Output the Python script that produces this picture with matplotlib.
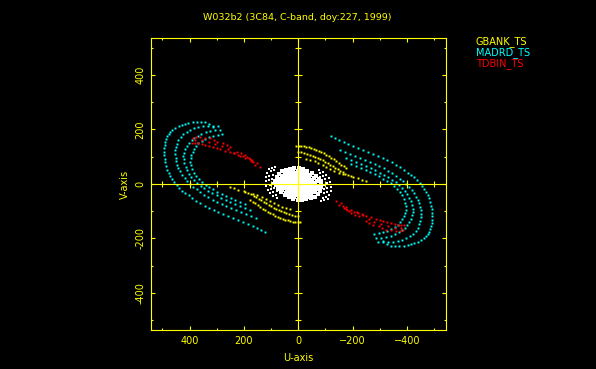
import matplotlib
matplotlib.use('Agg')
import matplotlib.pyplot as plt
import numpy as np

# Datos UV (u, v) en kilo-lambda, solo medio plano; el conjugado (-u, -v) se dibuja tambien
titulo = 'W032b2 (3C84, C-band, doy:227, 1999)'
estaciones = ['GBANK_TS', 'MADRD_TS', 'TDBIN_TS']

# MADRD_TS: cuatro arcos anidados
madrd_1 = [(313, 209), (328, 219), (342, 228), (357, 229), (372, 228), (388, 227), (405, 224),
           (416, 221), (427, 217), (440, 212), (453, 206), (463, 199), (471, 191), (477, 184),
           (482, 176), (486, 165), (489, 154), (491, 143), (493, 132), (494, 119), (493, 106),
           (491, 93), (489, 81), (486, 66), (482, 51), (477, 40), (471, 29), (464, 18), (456, 7),
           (447, -4), (438, -15), (427, -24), (416, -33), (403, -42), (390, -51), (376, -61),
           (361, -70), (345, -79), (328, -88), (311, -96), (294, -103), (276, -110), (258, -117),
           (240, -125), (221, -132), (203, -140), (184, -147), (168, -154), (151, -161),
           (136, -169), (121, -176)]
madrd_2 = [(294, 213), (312, 214), (331, 213), (350, 212), (368, 209), (383, 204), (397, 198),
           (410, 191), (423, 184), (433, 173), (442, 161), (446, 148), (449, 136), (452, 123),
           (453, 110), (451, 97), (449, 84), (446, 71), (442, 59), (435, 46), (427, 33), (418, 22),
           (408, 11), (397, 0), (386, -11), (374, -20), (361, -29), (346, -39), (331, -48),
           (315, -57), (298, -66), (282, -74), (265, -81), (247, -88), (228, -95), (210, -103),
           (191, -110), (173, -118), (155, -125)]
madrd_3 = [(287, 198), (306, 197), (324, 195), (341, 190), (357, 184), (370, 177), (383, 169),
           (392, 160), (401, 150), (409, 139), (416, 128), (420, 115), (423, 103), (422, 90),
           (420, 77), (414, 64), (408, 51), (401, 38), (394, 26), (383, 15), (372, 4), (359, -6),
           (346, -15), (331, -24), (316, -33), (300, -42), (283, -51), (267, -59), (250, -66),
           (232, -74), (213, -81), (195, -88), (177, -95)]
madrd_4 = [(280, 184), (297, 180), (313, 176), (328, 171), (342, 165), (355, 158), (368, 150),
           (376, 139), (383, 128), (389, 117), (394, 106), (396, 94), (397, 81), (394, 68),
           (390, 55), (383, 42), (375, 29), (364, 18), (353, 7), (341, -2), (328, -11), (313, -20),
           (298, -29), (282, -37), (265, -44), (249, -52), (232, -59), (214, -66), (195, -73)]

# TDBIN_TS: tres filas
tdbin_1 = [(386, 169), (375, 172), (361, 172), (342, 169), (324, 169), (309, 161), (298, 154),
           (276, 150), (261, 143), (250, 136), (224, 117), (210, 114), (195, 106), (180, 95),
           (169, 88), (151, 77), (140, 62)]
tdbin_2 = [(390, 150), (379, 151), (368, 150), (355, 146), (342, 143), (328, 140), (313, 136),
           (300, 132), (287, 128), (268, 122), (250, 117), (235, 112), (221, 106), (205, 103),
           (188, 99), (177, 90), (166, 81)]
tdbin_3 = [(380, 160), (355, 160), (330, 155), (305, 146), (280, 139), (260, 128), (238, 115),
           (215, 104), (195, 95), (175, 84), (158, 70)]

# GBANK_TS: tres filas cortas
gbank_1 = [(7, 139), (-2, 140), (-11, 139), (-20, 138), (-29, 136), (-38, 134), (-48, 132),
           (-57, 129), (-66, 125), (-75, 121), (-85, 117), (-94, 112), (-103, 106), (-112, 101),
           (-121, 95), (-130, 90), (-140, 84), (-149, 77), (-158, 70), (-168, 65), (-177, 59)]
gbank_2 = [(0, 117), (-11, 116), (-22, 114), (-33, 110), (-44, 106), (-53, 103), (-63, 99),
           (-72, 96), (-81, 92), (-90, 87), (-99, 81), (-108, 76), (-118, 70), (-127, 65),
           (-136, 59), (-145, 54), (-155, 48), (-164, 43), (-173, 37), (-184, 33), (-195, 29),
           (-236, 15), (-250, 11)]
gbank_3 = [(-30, 92), (-44, 88), (-60, 83), (-74, 77), (-90, 70), (-103, 62), (-118, 55),
           (-132, 48), (-150, 42), (-166, 37), (-200, 26), (-221, 22)]

# resto de bases cortas (blanco)
corta_1 = [(108, 56), (115, 42), (119, 26), (120, 10), (118, -6), (112, -21), (104, -34),
           (92, -44), (78, -50)]
corta_2 = [(96, 60), (102, 46), (106, 30), (107, 13), (105, -3), (100, -18), (92, -30),
           (81, -40)]
corta_3 = [(84, 64), (90, 50), (94, 34), (95, 18), (93, 2), (88, -13), (80, -25)]
nucleo_1 = [(84, 10), (80, 24), (72, 36), (60, 46), (46, 52), (30, 56), (14, 58), (-2, 57),
            (-18, 54), (-34, 48), (-50, 40), (-64, 30), (-76, 18), (-82, 5)]
nucleo_2 = [(74, 7), (69, 20), (60, 31), (48, 40), (34, 46), (18, 49), (2, 49), (-14, 46),
            (-30, 40), (-45, 32), (-58, 23), (-68, 11)]
nucleo_3 = [(63, 5), (58, 17), (50, 27), (39, 34), (26, 39), (12, 41), (-2, 40), (-16, 37),
            (-29, 31), (-41, 23), (-51, 14), (-58, 4)]
nucleo_4 = [(52, 4), (47, 14), (39, 22), (29, 28), (17, 31), (5, 32), (-7, 31), (-19, 27),
            (-30, 21), (-39, 13), (-45, 4)]
nucleo_5 = [(40, 3), (35, 11), (28, 17), (19, 21), (9, 23), (-2, 23), (-12, 21), (-21, 16),
            (-29, 10), (-34, 2)]
nucleo_6 = [(28, 2), (24, 8), (17, 12), (8, 15), (-2, 15), (-11, 12), (-18, 8), (-23, 2)]
nucleo_7 = [(16, 1), (12, 5), (5, 7), (-3, 7), (-9, 4), (-12, 0)]

amarillo = '#ffff00'
grupos = [
    (corta_1 + corta_2 + corta_3, 'white', 1.5),
    (nucleo_1 + nucleo_2 + nucleo_3 + nucleo_4 + nucleo_5 + nucleo_6 + nucleo_7, 'white', 2.3),
    (gbank_1 + gbank_2 + gbank_3, amarillo, 1.4),
    (madrd_1 + madrd_2 + madrd_3 + madrd_4, '#00ffff', 1.4),
    (tdbin_1 + tdbin_2 + tdbin_3, '#ff0000', 1.4),
]

fig = plt.figure(figsize=(5.96, 3.69), dpi=100, facecolor='black')
ax = fig.add_axes([0.2529, 0.1049, 0.4950, 0.7930], facecolor='black')

for puntos, col, tam in grupos:
    uv = np.array(puntos, dtype=float)
    u = np.concatenate([uv[:, 0], -uv[:, 0]])
    v = np.concatenate([uv[:, 1], -uv[:, 1]])
    ax.plot(u, v, ls='none', marker='s', ms=tam, mew=0, color=col, zorder=2)

ax.set_xlim(543, -543)
ax.set_ylim(-537, 537)

mayores = [-400, -200, 0, 200, 400]
menores = [-500, -300, -100, 100, 300, 500]
ax.set_xticks(mayores)
ax.set_yticks(mayores)
ax.set_xticks(menores, minor=True)
ax.set_yticks(menores, minor=True)
ax.set_yticklabels([str(t) for t in mayores], rotation=90, va='center')

for s in ax.spines.values():
    s.set_color(amarillo)
    s.set_linewidth(0.8)
ax.tick_params(which='both', direction='in', top=True, right=True, colors=amarillo,
               width=0.8, labelsize=7, pad=4)
ax.tick_params(which='major', length=3.2)
ax.tick_params(which='minor', length=1.6)

# ejes centrales con marcas
ax.axhline(0, color=amarillo, lw=0.8, zorder=3)
ax.axvline(0, color=amarillo, lw=0.8, zorder=3)
ax.plot(mayores, [0] * len(mayores), ls='none', marker='|', ms=5.8, mew=0.8, color=amarillo, zorder=3)
ax.plot(menores, [0] * len(menores), ls='none', marker='|', ms=3.9, mew=0.8, color=amarillo, zorder=3)
ax.plot([0] * len(mayores), mayores, ls='none', marker='_', ms=5.8, mew=0.8, color=amarillo, zorder=3)
ax.plot([0] * len(menores), menores, ls='none', marker='_', ms=3.9, mew=0.8, color=amarillo, zorder=3)

ax.set_xlabel('U-axis', color=amarillo, fontsize=7, labelpad=5)
ax.set_ylabel('V-axis', color=amarillo, fontsize=7, labelpad=4)
fig.text(0.4995, 1 - 17 / 369, titulo, color=amarillo, fontsize=6.8, ha='center', va='center')

for i, (nombre, col) in enumerate(zip(estaciones, [amarillo, '#00ffff', '#ff0000'])):
    fig.text(476 / 596, 1 - (41.7 + 10.8 * i) / 369, nombre, color=col, fontsize=7,
             ha='left', va='center')

plt.savefig('out.png', dpi=100, facecolor='black')
